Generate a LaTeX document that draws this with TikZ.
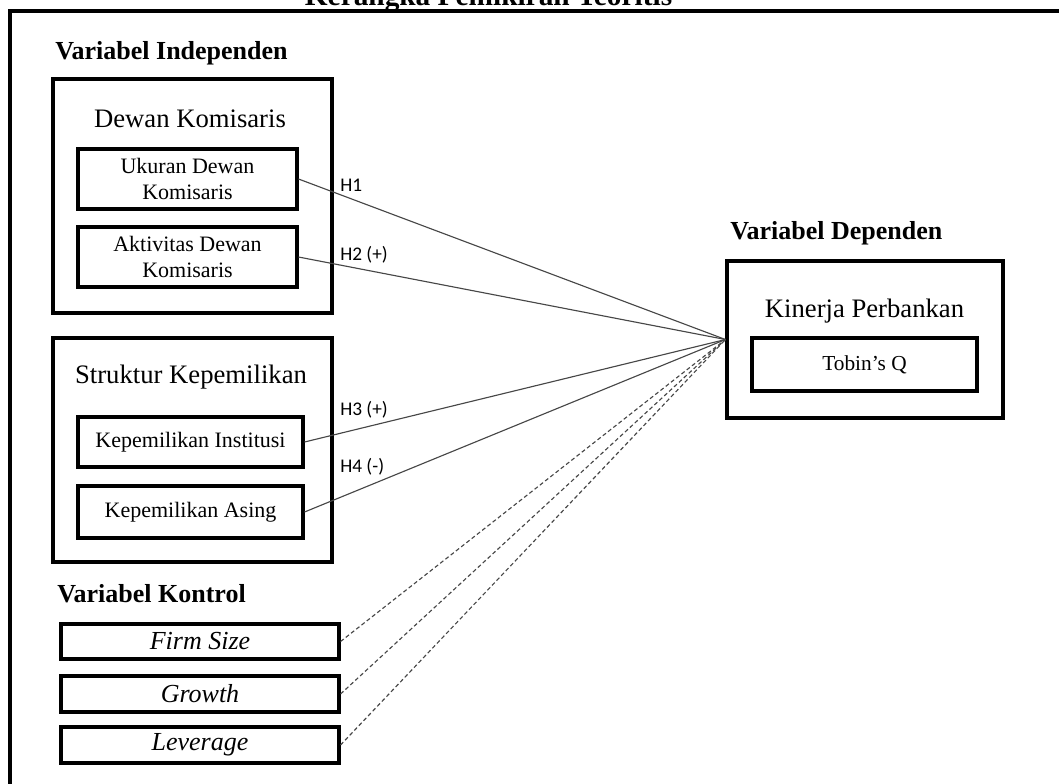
\documentclass[tikz,border=0pt]{standalone}
\usepackage{fontspec}
\setmainfont{Liberation Serif}
\newfontfamily\hypfont{Carlito}
\usetikzlibrary{positioning}

\tikzset{
    frameline/.style={line width=2.3pt},
    groupbox/.style={draw, line width=2.3pt, minimum width=209.25pt},
    itembox/.style={draw, line width=2.3pt, inner sep=0pt, align=center, font=\fontsize{16.5pt}{19.5pt}\selectfont},
    ctrlbox/.style={itembox, minimum width=208.5pt, font=\itshape\fontsize{19.5pt}{23pt}\selectfont},
    heading/.style={anchor=base west, inner sep=0pt, font=\bfseries\fontsize{19.5pt}{23pt}\selectfont},
    grouptitle/.style={anchor=base, inner sep=0pt, font=\fontsize{20pt}{24pt}\selectfont},
    hyplabel/.style={anchor=west, inner sep=0pt, font=\hypfont\fontsize{14.5pt}{17pt}\selectfont},
    conn/.style={draw=black!72, line width=0.85pt},
    ctrlconn/.style={conn, dash pattern=on 3pt off 2pt}
}

\begin{document}
\begin{tikzpicture}[x=0.75pt, y=-0.75pt]
    \useasboundingbox (0,0) rectangle (1059,783);
    \clip (0,0) rectangle (1059,783);

    % title and outer frame (cut off)
    \node[anchor=base, inner sep=0pt, font=\bfseries\fontsize{22pt}{26pt}\selectfont] (title) at (488.5,5) {Kerangka Pemikiran Teoritis};
    \draw[frameline] (1100,11) -- (10,11) -- (10,820);

    % independent variables
    \node[heading] (indep) at (55,59) {Variabel Independen};
    \node[groupbox, minimum height=175.5pt] (dewan) at (192.5,196) {};
    \node[grouptitle] (dewant) at (190,127) {Dewan Komisaris};
    \node[itembox, minimum width=164.25pt, minimum height=45pt] (ukuran) at (187.5,179) {Ukuran Dewan\\Komisaris};
    \node[itembox, minimum width=164.25pt, minimum height=45pt] (aktiv) at (187.5,257) {Aktivitas Dewan\\Komisaris};

    \node[groupbox, minimum height=168pt] (struktur) at (192.5,450) {};
    \node[grouptitle] (strukturt) at (191,383) {Struktur Kepemilikan};
    \node[itembox, minimum width=168.75pt, minimum height=37.5pt] (inst) at (190.5,442) {Kepemilikan Institusi};
    \node[itembox, minimum width=168.75pt, minimum height=39pt] (asing) at (190.5,512) {Kepemilikan Asing};

    % control variables
    \node[heading] (kontrol) at (57,602) {Variabel Kontrol};
    \node[ctrlbox, minimum height=26.25pt] (firm) at (200,641.5) {Firm Size};
    \node[ctrlbox, minimum height=27pt] (growth) at (200,694) {Growth};
    \node[ctrlbox, minimum height=27pt] (lev) at (200,745) {Leverage};

    % dependent variable
    \node[heading] (dep) at (730,239) {Variabel Dependen};
    \node[groupbox, minimum width=207pt, minimum height=117.75pt] (kinerja) at (865,339.5) {};
    \node[grouptitle] (kinerjat) at (864.5,317) {Kinerja Perbankan};
    \node[itembox, minimum width=168.75pt, minimum height=39.75pt, font=\fontsize{16pt}{19pt}\selectfont] (tobin) at (864.5,364.5) {Tobin's Q};

    % hypotheses
    \draw[conn] (ukuran.east) -- (kinerja.west);
    \draw[conn] (aktiv.east) -- (kinerja.west);
    \draw[conn] (inst.east) -- (kinerja.west);
    \draw[conn] (asing.east) -- (kinerja.west);
    \node[hyplabel] (h1) at (340,185) {H1};
    \node[hyplabel] (h2) at (340,255) {H2 (+)};
    \node[hyplabel] (h3) at (340,410) {H3 (+)};
    \node[hyplabel] (h4) at (340,467) {H4 (-)};

    % controls
    \foreach \c in {firm,growth,lev}
        \draw[ctrlconn] (\c.east) -- (kinerja.west);
\end{tikzpicture}
\end{document}
